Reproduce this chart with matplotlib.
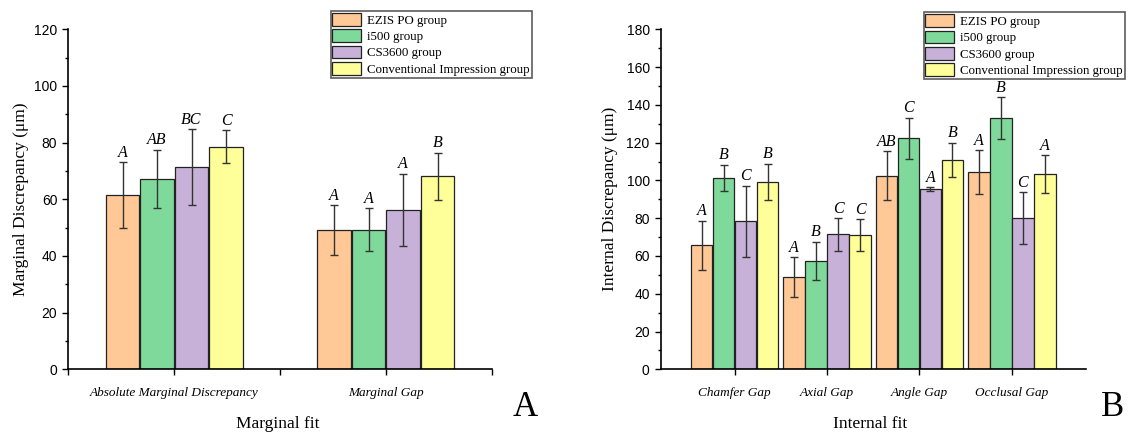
import numpy as np
import matplotlib
matplotlib.use('Agg')
import matplotlib.pyplot as plt
from matplotlib.ticker import MultipleLocator

# ── data ─────────────────────────────────────────────────────────────────────
GROUPS = ['EZIS PO group', 'i500 group', 'CS3600 group', 'Conventional Impression group']
COLORS = ['#FFC896', '#7FD99B', '#C8B1D8', '#FFFF99']

MARGINAL_CATS = ['Absolute Marginal Discrepancy', 'Marginal Gap']
MARGINAL_MEAN = [[61.5, 49.2], [67.3, 49.2], [71.3, 56.4], [78.5, 68.1]]
MARGINAL_SD   = [[11.5, 8.8], [10.2, 7.6], [13.4, 12.7], [5.8, 8.3]]
MARGINAL_SIG  = [['A', 'A'], ['AB', 'A'], ['BC', 'A'], ['C', 'B']]

INTERNAL_CATS = ['Chamfer Gap', 'Axial Gap', 'Angle Gap', 'Occlusal Gap']
INTERNAL_MEAN = [[65.7, 48.9, 102.5, 104.4],
                 [101.4, 57.4, 122.2, 133.1],
                 [78.4, 71.4, 95.3, 80.0],
                 [99.3, 71.0, 110.9, 103.5]]
INTERNAL_SD   = [[13.0, 10.5, 13.0, 11.7],
                 [7.0, 10.2, 11.0, 11.0],
                 [18.8, 8.7, 1.0, 13.9],
                 [9.5, 8.4, 9.0, 10.0]]
INTERNAL_SIG  = [['A', 'A', 'AB', 'A'],
                 ['B', 'B', 'C', 'B'],
                 ['C', 'C', 'A', 'C'],
                 ['B', 'C', 'B', 'A']]

SERIF = ['Liberation Serif', 'DejaVu Serif']
SANS = ['Liberation Sans', 'DejaVu Sans']


def draw_panel(ax, cats, means, sds, sigs, width, xlim, ylim, ylabel, xlabel,
               ylab_x, xlab_pos, leg_anchor):
    x = np.arange(1, len(cats) + 1)
    for i, grp in enumerate(GROUPS):
        pos = x + (i - 1.5) * width
        ax.bar(pos, means[i], width=width * 0.97, color=COLORS[i], edgecolor='#222222',
               linewidth=0.9, label=grp, zorder=2)
        ax.errorbar(pos, means[i], yerr=sds[i], fmt='none', ecolor='#333333',
                    elinewidth=1.0, capsize=3, capthick=1.0, zorder=3)
        for xp, m, s, t in zip(pos, means[i], sds[i], sigs[i]):
            ax.annotate(t, xy=(xp, m + s), xytext=(0, 1.0), textcoords='offset points',
                        ha='center', va='bottom', fontsize=11.5, style='italic',
                        family=SERIF)

    ax.set_xlim(*xlim)
    ax.set_ylim(*ylim)
    ax.yaxis.set_major_locator(MultipleLocator(20))
    ax.yaxis.set_minor_locator(MultipleLocator(10))
    ax.set_xticks(x)
    ax.set_xticklabels(cats, fontsize=9.5, style='italic', family=SERIF)
    for lbl in ax.get_yticklabels():
        lbl.set_family(SANS)
        lbl.set_fontsize(10)
    ax.tick_params(axis='both', which='major', direction='out', length=4, width=1)
    ax.tick_params(axis='y', which='minor', direction='out', length=2.5, width=1)
    ax.tick_params(axis='y', pad=4)
    ax.tick_params(axis='x', pad=8.5)
    ax.spines['top'].set_visible(False)
    ax.spines['right'].set_visible(False)
    ax.spines['left'].set_linewidth(1.2)
    ax.spines['bottom'].set_linewidth(1.2)
    ax.set_ylabel(ylabel, fontsize=12.5, family=SERIF)
    ax.yaxis.set_label_coords(ylab_x, 0.5)
    ax.set_xlabel(xlabel, fontsize=12.5, family=SERIF, va='center')
    ax.xaxis.set_label_coords(*xlab_pos)

    leg = ax.legend(loc='upper right', bbox_to_anchor=leg_anchor,
                    prop={'family': SERIF, 'size': 9.3}, frameon=True, fancybox=False,
                    edgecolor='#333333', handlelength=2.2, handleheight=1.15,
                    handletextpad=0.5, labelspacing=0.2, borderpad=0.15,
                    borderaxespad=0.0)
    leg.get_frame().set_linewidth(1.2)


fig = plt.figure(figsize=(11.28, 4.34), dpi=100)
ax1 = fig.add_axes([0.0607, 0.149, 0.3752, 0.7835])
ax2 = fig.add_axes([0.5858, 0.149, 0.3768, 0.7835])

draw_panel(ax1, MARGINAL_CATS, MARGINAL_MEAN, MARGINAL_SD, MARGINAL_SIG,
           0.163, (0.5, 2.5), (0, 120), 'Marginal Discrepancy (μm)', 'Marginal fit',
           -0.094, (0.495, -0.161), (1.095, 1.054))
ax1.xaxis.set_minor_locator(MultipleLocator(0.5))
ax1.tick_params(axis='x', which='minor', direction='out', length=4, width=1)

draw_panel(ax2, INTERNAL_CATS, INTERNAL_MEAN, INTERNAL_SD, INTERNAL_SIG,
           0.238, (0.2, 4.8), (0, 180), 'Internal Discrepancy (μm)', 'Internal fit',
           -0.1007, (0.493, -0.161), (1.092, 1.05))

fig.text(0.4654, 0.062, 'A', fontsize=25, family=SERIF, ha='center', va='center')
fig.text(0.9867, 0.06, 'B', fontsize=25, family=SERIF, ha='center', va='center')

fig.savefig('out.png', dpi=100)
